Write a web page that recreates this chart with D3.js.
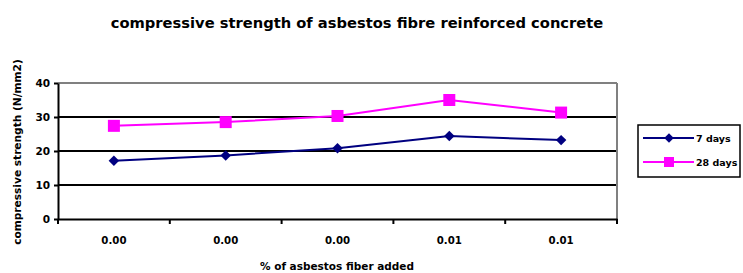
<!DOCTYPE html>
<html><head><meta charset="utf-8">
<script src="https://cdn.jsdelivr.net/npm/d3@7"></script>
<style>body{margin:0;background:#fff}text{font-family:"DejaVu Sans",Verdana,sans-serif;font-weight:bold}</style>
</head><body><svg id="c" width="743" height="273"></svg>
<script>
const categories = ["0.00","0.00","0.00","0.01","0.01"];
const days7 = [17.1, 18.7, 20.8, 24.4, 23.2];
const days28 = [27.4, 28.5, 30.3, 35.0, 31.3];
const yTicks = [0,10,20,30,40];
const seriesNames = ["7 days","28 days"];
const colors = ["#000080","#FF00FF"];

const svg = d3.select("#c");
const L=58, R=617, T=83, B=219;
const x = d3.scaleBand().domain(d3.range(categories.length)).range([L,R]);
const y = d3.scaleLinear().domain([0,40]).range([B,T]);

svg.append("text").attr("x",357).attr("y",28).attr("text-anchor","middle").attr("font-size",14.7).text("compressive strength of asbestos fibre reinforced concrete");

// gridlines
svg.append("g").selectAll("line").data(yTicks.filter(d=>d>0&&d<40)).join("line")
 .attr("x1",L).attr("x2",R).attr("y1",d=>y(d)).attr("y2",d=>y(d)).attr("stroke","#000").attr("stroke-width",2);
// border top/right gray
svg.append("line").attr("x1",L).attr("x2",R).attr("y1",y(40)).attr("y2",y(40)).attr("stroke","#808080").attr("stroke-width",2);
svg.append("line").attr("x1",R).attr("x2",R).attr("y1",T).attr("y2",B).attr("stroke","#808080").attr("stroke-width",2);

// y axis
const ya = svg.append("g").attr("transform",`translate(${L},0)`).call(d3.axisLeft(y).tickValues(yTicks).tickSize(4).tickSizeOuter(0));
ya.select(".domain").attr("stroke","#000").attr("stroke-width",2);
ya.selectAll(".tick line").attr("stroke","#000").attr("stroke-width",2);
ya.selectAll("text").attr("font-size",10.5).attr("fill","#000").attr("x",-8);

// x axis
const xa = svg.append("g").attr("transform",`translate(0,${B})`).call(d3.axisBottom(x).tickFormat(i=>categories[i]).tickSize(0).tickPadding(18));
xa.select(".domain").attr("stroke","#000").attr("stroke-width",2);
xa.selectAll("text").attr("font-size",10.2).attr("fill","#000");
svg.append("g").selectAll("line").data(d3.range(categories.length+1)).join("line")
 .attr("x1",i=>L+i*x.step()).attr("x2",i=>L+i*x.step()).attr("y1",B).attr("y2",B+5).attr("stroke","#000").attr("stroke-width",2);

svg.append("text").attr("x",337).attr("y",270).attr("text-anchor","middle").attr("font-size",10.5).text("% of asbestos fiber added");
svg.append("text").attr("transform","translate(21,152) rotate(-90)").attr("text-anchor","middle").attr("font-size",10.6).text("compressive strength (N/mm2)");

const cx = i=>x(i)+x.bandwidth()/2;
const line = d3.line().x((d,i)=>cx(i)).y(d=>y(d));
[days7,days28].forEach((s,k)=>{
  svg.append("path").datum(s).attr("d",line).attr("fill","none").attr("stroke",colors[k]).attr("stroke-width",2);
  if(k===0){
    svg.append("g").selectAll("path").data(s).join("path").attr("d",d3.symbol().type(d3.symbolSquare).size(55)())
     .attr("transform",(d,i)=>`translate(${cx(i)},${y(d)}) rotate(45)`).attr("fill",colors[0]);
  } else {
    svg.append("g").selectAll("rect").data(s).join("rect").attr("x",(d,i)=>cx(i)-6).attr("y",d=>y(d)-6)
     .attr("width",12).attr("height",12).attr("fill",colors[1]);
  }
});

// legend
const lg = svg.append("g");
lg.append("rect").attr("x",638).attr("y",125).attr("width",102).attr("height",52).attr("fill","#fff").attr("stroke","#000").attr("stroke-width",1.5);
seriesNames.forEach((n,k)=>{
  const yy = 138+k*24;
  lg.append("line").attr("x1",643).attr("x2",694).attr("y1",yy).attr("y2",yy).attr("stroke",colors[k]).attr("stroke-width",2);
  if(k===0) lg.append("path").attr("d",d3.symbol().type(d3.symbolSquare).size(45)()).attr("transform",`translate(669,${yy}) rotate(45)`).attr("fill",colors[0]);
  else lg.append("rect").attr("x",664).attr("y",yy-5).attr("width",10).attr("height",10).attr("fill",colors[1]);
  lg.append("text").attr("x",696).attr("y",yy+4).attr("font-size",9.5).text(n);
});
</script></body></html>
